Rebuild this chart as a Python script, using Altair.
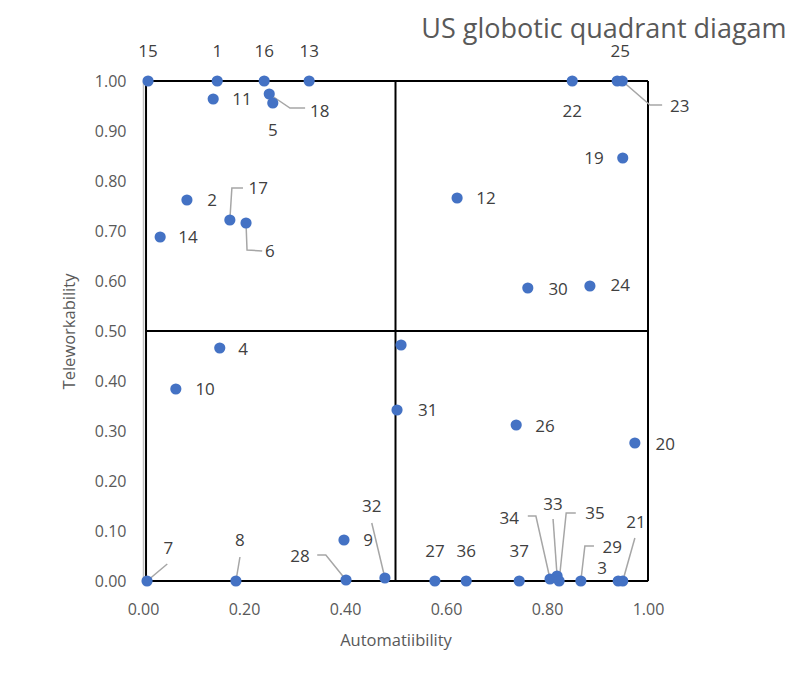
import altair as alt
import pandas as pd

# ---- data ----
ids = ["15", "1", "16", "13", "11", "18", "5", "2", "17", "6", "14", "4", "10",
       "7", "8", "28", "9", "32", "31", "", "12", "22", "25", "23", "19", "30",
       "24", "26", "20", "27", "36", "37", "34", "33", "35", "29", "3", "21"]
automat = [0.010, 0.147, 0.240, 0.329, 0.139, 0.250, 0.257, 0.087, 0.172, 0.204,
           0.034, 0.152, 0.065, 0.008, 0.184, 0.402, 0.398, 0.479, 0.503, 0.511,
           0.622, 0.850, 0.939, 0.949, 0.950, 0.762, 0.885, 0.739, 0.974, 0.578,
           0.640, 0.745, 0.806, 0.820, 0.824, 0.867, 0.941, 0.950]
telework = [1.000, 1.000, 1.000, 1.000, 0.964, 0.974, 0.956, 0.762, 0.722, 0.716,
            0.688, 0.466, 0.384, 0.000, 0.000, 0.002, 0.082, 0.006, 0.342, 0.472,
            0.766, 1.000, 1.000, 1.000, 0.846, 0.586, 0.590, 0.312, 0.276, 0.000,
            0.000, 0.000, 0.004, 0.010, 0.000, 0.000, 0.000, 0.000]
# label anchor positions (data units)
label_x = [0.010, 0.147, 0.240, 0.329, 0.196, 0.350, 0.257, 0.137, 0.228, 0.251,
           0.089, 0.198, 0.123, 0.050, 0.192, 0.311, 0.446, 0.453, 0.564, 0.511,
           0.679, 0.850, 0.945, 1.063, 0.893, 0.822, 0.945, 0.796, 1.034, 0.578,
           0.640, 0.745, 0.725, 0.812, 0.895, 0.929, 0.909, 0.976]
label_y = [1.058, 1.058, 1.058, 1.058, 0.962, 0.938, 0.900, 0.760, 0.784, 0.658,
           0.686, 0.462, 0.382, 0.064, 0.080, 0.048, 0.080, 0.148, 0.340, 0.472,
           0.764, 0.938, 1.058, 0.948, 0.844, 0.582, 0.590, 0.308, 0.272, 0.058,
           0.058, 0.058, 0.124, 0.152, 0.134, 0.066, 0.024, 0.116]

# leader lines: label id, then intermediate vertices (data units); point appended
leader_ids = ["7", "8", "28", "32", "17", "6", "18", "23", "34", "33", "35", "29", "21"]
leader_start_x = [0.048, 0.192, 0.345, 0.453, 0.198, 0.236, 0.321, 1.028, 0.762, 0.812, 0.857, 0.893, 0.974]
leader_start_y = [0.034, 0.048, 0.052, 0.116, 0.786, 0.660, 0.946, 0.952, 0.130, 0.124, 0.136, 0.070, 0.086]
leader_elbow_x = [None, None, 0.362, None, 0.176, 0.206, 0.291, 1.004, 0.778, None, 0.838, 0.875, None]
leader_elbow_y = [None, None, 0.052, None, 0.786, 0.662, 0.946, 0.952, 0.130, None, 0.136, 0.070, None]

# quadrant frame segments
seg_x = [0.006, 0.006, 0.006, 0.006, 0.5, 1.0]
seg_x2 = [1.0, 1.0, 1.0, 0.006, 0.5, 1.0]
seg_y = [0.0, 0.5, 1.0, 0.0, 0.0, 0.0]
seg_y2 = [0.0, 0.5, 1.0, 1.0, 1.0, 1.0]

x_ticks = [0.0, 0.2, 0.4, 0.6, 0.8, 1.0]
y_ticks = [0.0, 0.1, 0.2, 0.3, 0.4, 0.5, 0.6, 0.7, 0.8, 0.9, 1.0]

# ---- tables ----
pts = pd.DataFrame({"id": ids, "x": automat, "y": telework,
                    "lx": label_x, "ly": label_y})
rows = []
pos = {i: (a, t) for i, a, t in zip(ids, automat, telework)}
for k, lid in enumerate(leader_ids):
    verts = [(leader_start_x[k], leader_start_y[k])]
    if leader_elbow_x[k] is not None:
        verts.append((leader_elbow_x[k], leader_elbow_y[k]))
    verts.append(pos[lid])
    for o, (vx, vy) in enumerate(verts):
        rows.append({"g": lid, "o": o, "x": vx, "y": vy})
leaders = pd.DataFrame(rows)
frame = pd.DataFrame({"x": seg_x, "x2": seg_x2, "y": seg_y, "y2": seg_y2})

FONT = "Open Sans"
xs = alt.Scale(domain=[0, 1], nice=False, zero=False)
ys = alt.Scale(domain=[0, 1], nice=False, zero=False)

xax = alt.Axis(values=x_ticks, format=".2f", grid=False, ticks=False,
               labelFlush=False, labelOverlap=False,
               domainColor="#BFBFBF", labelColor="#595959", labelFontSize=16,
               labelFont=FONT, labelPadding=20, title="Automatiibility",
               titleFont=FONT, titleFontSize=16.5, titleColor="#595959",
               titleFontWeight="normal", titlePadding=15)
yax = alt.Axis(values=y_ticks, format=".2f", grid=False, ticks=False,
               labelFlush=False, labelOverlap=False,
               domainColor="#BFBFBF", domainWidth=1.5, labelColor="#595959",
               labelFontSize=16, labelFont=FONT, labelPadding=17,
               title="Teleworkability", titleFont=FONT, titleFontSize=16.5,
               titleColor="#595959", titleFontWeight="normal", titlePadding=17)

base_axes = alt.Chart(pts).mark_point(opacity=0).encode(
    x=alt.X("x:Q", scale=xs, axis=xax),
    y=alt.Y("y:Q", scale=ys, axis=yax),
)

frame_layer = alt.Chart(frame).mark_rule(color="black", strokeWidth=2).encode(
    x=alt.X("x:Q", scale=xs), x2="x2:Q",
    y=alt.Y("y:Q", scale=ys), y2="y2:Q",
)

leader_layer = alt.Chart(leaders).mark_line(color="#A6A6A6", strokeWidth=1.5).encode(
    x=alt.X("x:Q", scale=xs), y=alt.Y("y:Q", scale=ys),
    detail="g:N", order="o:Q",
)

points = alt.Chart(pts).mark_circle(size=125, color="#4472C4", opacity=1).encode(
    x=alt.X("x:Q", scale=xs), y=alt.Y("y:Q", scale=ys),
)

labels = alt.Chart(pts).mark_text(font=FONT, fontSize=17, color="#404040",
                                  align="center", baseline="middle").encode(
    x=alt.X("lx:Q", scale=xs), y=alt.Y("ly:Q", scale=ys), text="id:N",
)

chart = alt.layer(base_axes, frame_layer, leader_layer, points, labels).properties(
    width=505, height=500,
    title=alt.TitleParams("US globotic quadrant diagam", anchor="start", dx=360,
                          dy=31, font=FONT, fontSize=27, color="#595959",
                          fontWeight="normal", offset=30),
    autosize=alt.AutoSizeParams(type="none"),
    padding={"left": 143, "top": 81, "right": 163, "bottom": 96},
).configure_view(stroke=None)

chart.save("out.html", embed_options={"renderer": "svg", "actions": False})
